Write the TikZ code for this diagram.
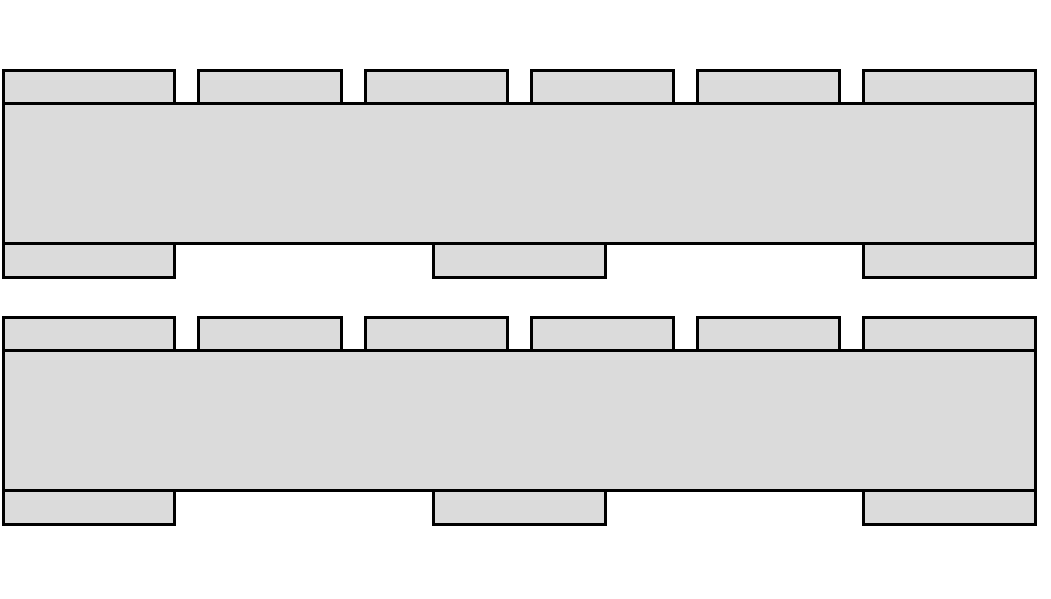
\documentclass[tikz,border=0pt]{standalone}
\begin{document}
\begin{tikzpicture}[x=1pt,y=-1pt]
\definecolor{plate}{RGB}{219,219,219}
\tikzset{part/.style={draw=black,fill=plate,line width=3pt,line join=miter}}
\useasboundingbox (0,0) rectangle (1051,598);
\foreach \yo in {0,247}{
  \begin{scope}[yshift=-\yo pt]
  \foreach \a/\b in {3/174,198/341,365/507,531/673,697/839,863/1035}
    \draw[part] (\a,70) rectangle (\b,103);
  \foreach \a/\b in {3/174,433/605,863/1035}
    \draw[part] (\a,243) rectangle (\b,277);
  \draw[part] (3,103) rectangle (1035,243);
  \end{scope}
}
\end{tikzpicture}
\end{document}
